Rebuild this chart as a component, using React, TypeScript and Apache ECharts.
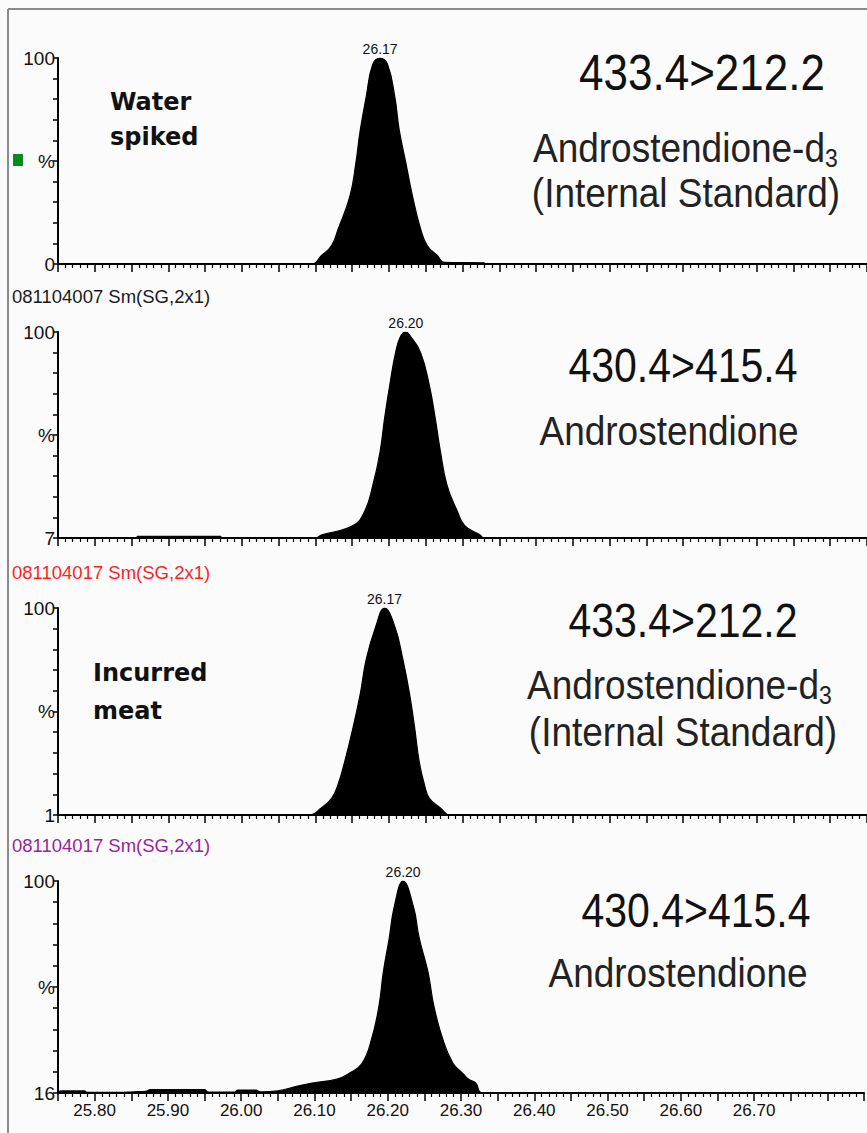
import React, { useEffect, useRef } from "react";
import * as echarts from "echarts";

// ---------- data ----------
const xMin = 25.75;
const xMax = 26.85;
const xTickLabels = [25.8, 25.9, 26.0, 26.1, 26.2, 26.3, 26.4, 26.5, 26.6, 26.7];
const baseLabels = ["0", "7", "1", "16"];
const peakLabels = ["26.17", "26.20", "26.17", "26.20"];
const transitions = ["433.4>212.2", "430.4>415.4", "433.4>212.2", "430.4>415.4"];
const fileLabels = ["081104007 Sm(SG,2x1)", "081104017 Sm(SG,2x1)", "081104017 Sm(SG,2x1)"];
const fileLabelColors = ["#1a1a1a", "#ff1f1f", "#9a1f9a"];

// retention time (min), relative intensity (%)
const waterSpikedIS = [
  [25.75, 0], [26.095, 0], [26.108, 4], [26.122, 9], [26.131, 17], [26.147, 33],
  [26.155, 49], [26.161, 65], [26.169, 81], [26.178, 97], [26.188, 100],
  [26.198, 97], [26.208, 81], [26.214, 65], [26.223, 49], [26.232, 33],
  [26.243, 17], [26.252, 9], [26.266, 4], [26.275, 0.8], [26.329, 0.6],
  [26.332, 0], [26.85, 0],
];
const waterSpikedAnalyte = [
  [25.75, 0], [25.857, 0], [25.858, 0.8], [25.971, 0.8], [25.972, 0],
  [26.1, 0], [26.108, 1.4], [26.151, 6], [26.167, 13], [26.178, 25.5],
  [26.188, 42], [26.194, 58], [26.201, 74], [26.209, 90], [26.216, 98],
  [26.223, 100], [26.229, 98], [26.243, 90], [26.255, 74], [26.263, 58],
  [26.27, 42], [26.279, 25.5], [26.293, 13], [26.303, 6], [26.324, 1.4],
  [26.329, 0], [26.85, 0],
];
const incurredIS = [
  [25.75, 0], [26.091, 0], [26.108, 3.4], [26.122, 8], [26.131, 15],
  [26.14, 26], [26.151, 42], [26.161, 58.5], [26.169, 75], [26.182, 91],
  [26.194, 100], [26.208, 91], [26.219, 75], [26.228, 58.5], [26.235, 42],
  [26.241, 26], [26.248, 15], [26.255, 8], [26.27, 3.4], [26.283, 0], [26.85, 0],
];
const incurredAnalyte = [
  [25.75, 0], [25.754, 1], [25.786, 1], [25.79, 0.3], [25.834, 0.3],
  [25.854, 0.6], [25.87, 0.8], [25.876, 1.6], [25.95, 1.6], [25.955, 0.4],
  [25.99, 0.4], [25.996, 1.4], [26.02, 1.4], [26.026, 0.5], [26.05, 1],
  [26.077, 3.3], [26.097, 4.7], [26.131, 6.6], [26.148, 9.4], [26.165, 14],
  [26.178, 25.5], [26.188, 41], [26.194, 57], [26.202, 73], [26.209, 88],
  [26.221, 100], [26.235, 88], [26.243, 73], [26.255, 57], [26.263, 41],
  [26.275, 25.5], [26.289, 14], [26.302, 9.4], [26.31, 6.6], [26.32, 4.7],
  [26.329, 0], [26.85, 0],
];
const traces = [waterSpikedIS, waterSpikedAnalyte, incurredIS, incurredAnalyte];

// ---------- layout ----------
const W = 867;
const H = 1133;
const panels = [
  { top: 58, height: 206 },
  { top: 332, height: 206 },
  { top: 608, height: 207 },
  { top: 881, height: 212 },
];
const gridLeft = 58;
const gridWidth = 815;

const FONT = "Liberation Sans, Arial, sans-serif";

function isLabelTick(v: number) {
  return xTickLabels.some((t) => Math.abs(t - v) < 1e-6);
}

export default function App() {
  const ref = useRef<HTMLDivElement>(null);
  useEffect(() => {
    document.body.style.margin = "0";
    if (!ref.current) return;
    const chart = echarts.init(ref.current, null, { renderer: "svg" });

    const grid = panels.map((p) => ({ left: gridLeft, width: gridWidth, top: p.top, height: p.height, containLabel: false }));
    const xAxis = panels.map((_, i) => ({
      type: "value",
      gridIndex: i,
      min: xMin,
      max: xMax,
      interval: 0.05,
      axisLine: { show: true, onZero: false, lineStyle: { color: "#000", width: 2 } },
      axisTick: { show: true, length: 8, lineStyle: { color: "#000", width: 1.5 } },
      minorTick: { show: true, splitNumber: 5, length: 4, lineStyle: { color: "#000", width: 1.2 } },
      splitLine: { show: false },
      minorSplitLine: { show: false },
      axisLabel: {
        show: i === 3,
        margin: 9,
        fontSize: 17,
        fontFamily: FONT,
        color: "#111",
        formatter: (v: number) => (isLabelTick(v) ? v.toFixed(2) : ""),
      },
    }));
    const yAxis = panels.map((_, i) => ({
      type: "value",
      gridIndex: i,
      min: 0,
      max: 100,
      interval: 10,
      axisLine: { show: true, lineStyle: { color: "#000", width: 2 } },
      axisTick: { show: true, length: 5, lineStyle: { color: "#000", width: 1.5 } },
      splitLine: { show: false },
      axisLabel: {
        margin: 3,
        fontSize: 19,
        fontFamily: FONT,
        color: "#111",
        formatter: (v: number) => (v === 100 ? "100" : v === 50 ? "%" : v === 0 ? baseLabels[i] : ""),
      },
    }));
    const series = traces.map((d, i) => ({
      type: "line",
      xAxisIndex: i,
      yAxisIndex: i,
      data: d,
      showSymbol: false,
      symbol: "none",
      smooth: 0.45,
      lineStyle: { color: "#000", width: 1.2 },
      areaStyle: { color: "#000", opacity: 1 },
      markPoint: {
        symbol: "circle",
        symbolSize: 0,
        data: [{ type: "max" }],
        label: {
          show: true,
          position: "top",
          distance: 2,
          formatter: peakLabels[i],
          fontSize: 14,
          fontFamily: FONT,
          color: "#111",
        },
      },
    }));

    const txt = (text: string, x: number, y: number, fontSize: number, opts: any = {}) => ({
      type: "text",
      x,
      y,
      scaleY: opts.scaleY || 1,
      originX: 0,
      originY: 0,
      style: {
        text,
        fontSize,
        fontFamily: opts.fontFamily || FONT,
        fill: opts.fill || "#111",
        fontWeight: opts.fontWeight || "normal",
        align: opts.align || "center",
        verticalAlign: "middle",
        rich: opts.rich,
      },
      z: 100,
    });

    const subRich = {
      a: { fontSize: 37, fontFamily: FONT, fill: "#222", lineHeight: 42 },
      s: { fontSize: 23, fontFamily: FONT, fill: "#222", verticalAlign: "bottom", lineHeight: 22 },
    };
    const BOLD = { align: "left", fontWeight: "bold", fontFamily: "DejaVu Sans, Verdana, sans-serif" };

    const graphic: any[] = [
      { type: "line", shape: { x1: 8, y1: 9, x2: 8, y2: H }, style: { stroke: "#8a8a8a", lineWidth: 2 } },
      { type: "line", shape: { x1: 8, y1: 9, x2: W, y2: 9 }, style: { stroke: "#8a8a8a", lineWidth: 2 } },
      { type: "rect", shape: { x: 13, y: 154, width: 10, height: 12 }, style: { fill: "#0b8a1c" } },
      // file labels
      ...fileLabels.map((t, i) =>
        txt(t, 12, [296, 572, 845][i], 18.5, { align: "left", fill: fileLabelColors[i] })
      ),
      // sample labels
      txt("Water", 110, 102, 24, BOLD),
      txt("spiked", 110, 137, 24, BOLD),
      txt("Incurred", 93, 673, 24, BOLD),
      txt("meat", 93, 711, 24, BOLD),
      // transitions
      txt(transitions[0], 702, 72, 44, { scaleY: 1.15 }),
      txt(transitions[1], 683, 365, 41, { scaleY: 1.15 }),
      txt(transitions[2], 683, 620, 41, { scaleY: 1.15 }),
      txt(transitions[3], 696, 910, 41, { scaleY: 1.15 }),
      // compounds
      txt("{a|Androstendione-d}{s|3}", 533, 147, 37, { align: "left", rich: subRich, scaleY: 1.12 }),
      txt("(Internal Standard)", 686, 192, 37, { fill: "#222", scaleY: 1.12 }),
      txt("Androstendione", 669, 430, 37, { fill: "#222", scaleY: 1.12 }),
      txt("{a|Androstendione-d}{s|3}", 527, 684, 37, { align: "left", rich: subRich, scaleY: 1.12 }),
      txt("(Internal Standard)", 683, 731, 37, { fill: "#222", scaleY: 1.12 }),
      txt("Androstendione", 678, 972, 37, { fill: "#222", scaleY: 1.12 }),
    ];

    chart.setOption({
      animation: false,
      backgroundColor: "#fbfbfb",
      grid,
      xAxis,
      yAxis,
      series,
      graphic,
    });
    return () => chart.dispose();
  }, []);
  return <div ref={ref} style={{ width: W, height: H }} />;
}
